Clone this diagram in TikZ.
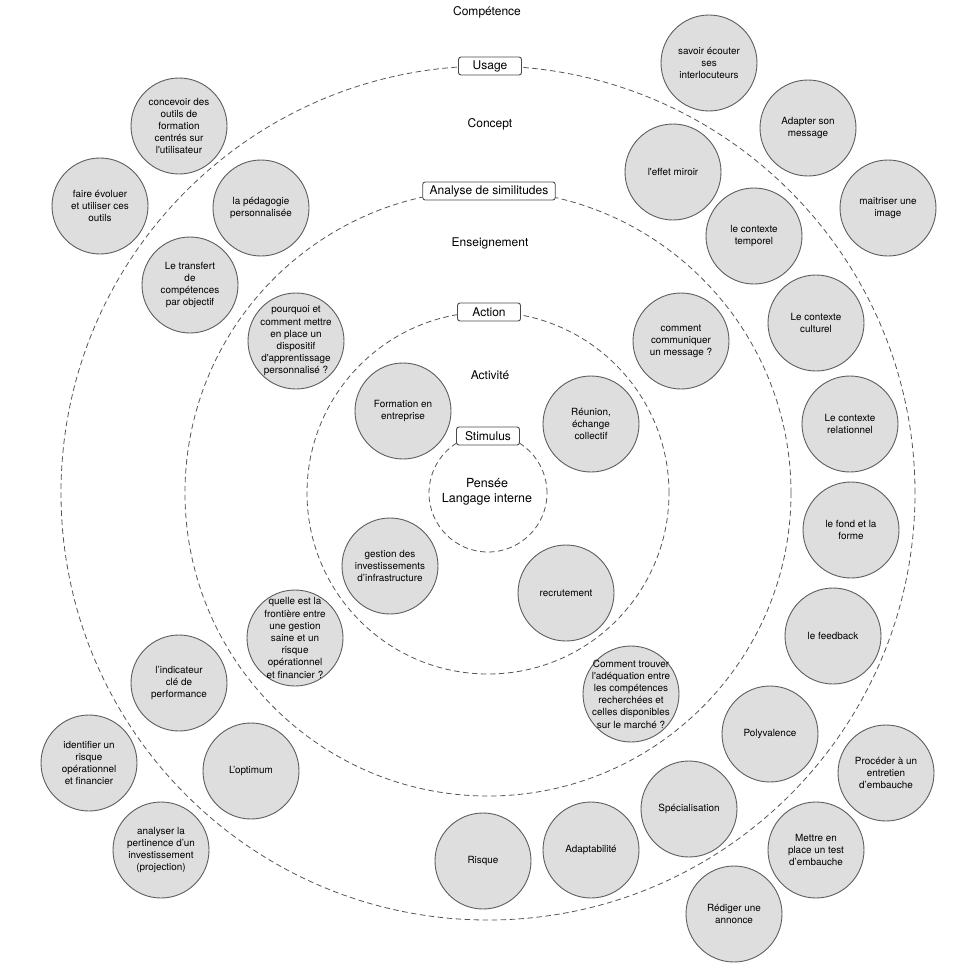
\documentclass[tikz,border=0pt]{standalone}
\usepackage{fontspec}
\setmainfont{TeX Gyre Heros}
\definecolor{bubfill}{HTML}{DEDEDE}
\definecolor{bubedge}{HTML}{5E5E5E}
\definecolor{ringgray}{HTML}{555555}
\definecolor{tagedge}{HTML}{4A4A4A}
\newcommand\bubble[3]{%
  \node[bub] (#1) at (#2) {};
  \node[bubtxt] (#1-t) at (#1) {#3};}
\begin{document}
\begin{tikzpicture}[x=1pt,y=-1pt,
  ring/.style={draw=ringgray, dash pattern=on 5.5pt off 3.5pt, line width=0.8pt},
  bub/.style={circle, draw=bubedge, fill=bubfill, line width=0.9pt, minimum size=96pt, inner sep=0pt},
  bubtxt/.style={align=center, font=\fontsize{9.9}{12.2}\selectfont, inner sep=0pt},
  tag/.style={draw=tagedge, fill=white, rounded corners=2.5pt, line width=0.9pt,
              minimum width=63pt, minimum height=18pt, inner xsep=7pt, inner ysep=0pt,
              font=\fontsize{12}{14}\selectfont},
  lvl/.style={font=\fontsize{12}{14}\selectfont, inner sep=0pt}
]
\useasboundingbox (0,0) rectangle (974,974);

% concentric dashed rings
\coordinate (c) at (488,493);
\draw[ring] (c) circle[radius=427pt];
\draw[ring] (c) circle[radius=303pt];
\draw[ring] (c) circle[radius=181pt];
\draw[ring] (c) circle[radius=59pt];

% level titles
\node[lvl] (competence) at (487,12) {Compétence};
\node[lvl] (concept) at (490,124) {Concept};
\node[lvl] (enseignement) at (490,243) {Enseignement};
\node[lvl] (activite) at (490,375) {Activité};
\node[lvl, align=center, font=\fontsize{12.5}{14.5}\selectfont] (pensee) at (487,492) {Pensée\\Langage interne};

% ring tags
\node[tag] (usage) at (490,66) {Usage};
\node[tag] (analyse) at (489,191) {Analyse de similitudes};
\node[tag] (action) at (489,312) {Action};
\node[tag] (stimulus) at (488,436) {Stimulus};

% bubbles
\bubble{b1}{179,126}{concevoir des\\outils de\\formation\\centrés sur\\l\textquotesingle utilisateur}
\bubble{b2}{100,206}{faire évoluer\\et utiliser ces\\outils}
\bubble{b3}{261,208}{la pédagogie\\personnalisée}
\bubble{b4}{190,285}{Le transfert\\de\\compétences\\par objectif}
\bubble{b5}{296,341}{pourquoi et\\comment mettre\\en place un\\dispositif\\d\textquotesingle apprentissage\\personnalisé ?}
\bubble{b6}{403,411}{Formation en\\entreprise}
\bubble{b7}{591,424}{Réunion,\\échange\\collectif}
\bubble{b8}{390,566}{gestion des\\investissements\\d’infrastructure}
\bubble{b9}{566,593}{recrutement}
\bubble{b10}{295,638}{quelle est la\\frontière entre\\une gestion\\saine et un\\risque\\opérationnel\\et financier ?}
\bubble{b11}{179,683}{l’indicateur\\clé de\\performance}
\bubble{b12}{89,763}{identifier un\\risque\\opérationnel\\et financier}
\bubble{b13}{251,771}{L’optimum}
\bubble{b14}{161,850}{analyser la\\pertinence d’un\\investissement\\(projection)}
\bubble{b15}{483,861}{Risque}
\bubble{b16}{591,850}{Adaptabilité}
\bubble{b17}{689,809}{Spécialisation}
\bubble{b18}{631,694}{Comment trouver\\l\textquotesingle adéquation entre\\les compétences\\recherchées et\\celles disponibles\\sur le marché ?}
\bubble{b19}{770,734}{Polyvalence}
\bubble{b20}{886,773}{Procéder à un\\entretien\\d’embauche}
\bubble{b21}{816,850}{Mettre en\\place un test\\d’embauche}
\bubble{b22}{734,914}{Rédiger une\\annonce}
\bubble{b23}{833,636}{le feedback}
\bubble{b24}{851,530}{le fond et la\\forme}
\bubble{b25}{850,424}{Le contexte\\relationnel}
\bubble{b26}{816,323}{Le contexte\\culturel}
\bubble{b27}{681,341}{comment\\communiquer\\un message ?}
\bubble{b28}{754,236}{le contexte\\temporel}
\bubble{b29}{673,172}{l\textquotesingle effet miroir}
\bubble{b30}{709,63}{savoir écouter\\ses\\interlocuteurs}
\bubble{b31}{808,128}{Adapter son\\message}
\bubble{b32}{888,208}{maitriser une\\image}
\end{tikzpicture}
\end{document}
